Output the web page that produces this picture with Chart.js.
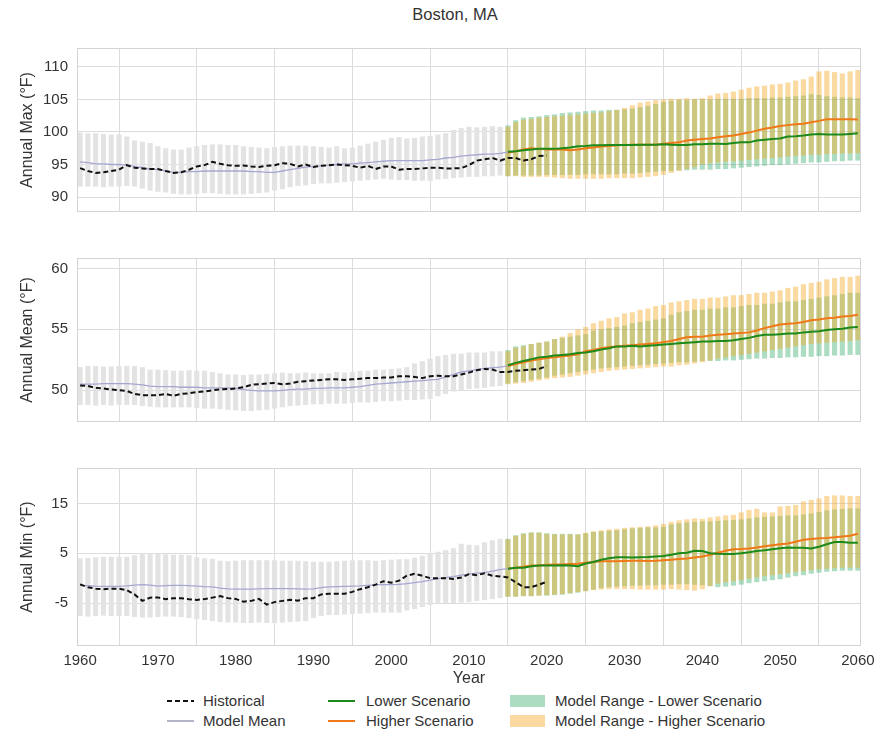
<!DOCTYPE html>
<html>
<head>
<meta charset="utf-8">
<script src="https://cdn.jsdelivr.net/npm/chart.js@4.4.1/dist/chart.umd.min.js"></script>
<style>
body{margin:0;background:#fff;width:887px;height:733px;position:relative;overflow:hidden;font-family:"Liberation Sans",Arial,sans-serif;color:#333}
canvas{position:absolute;left:0}
#title{position:absolute;top:4px;left:355px;width:200px;text-align:center;font-size:16.5px;line-height:20px}
.lg{position:absolute;font-size:15px;line-height:18px;white-space:nowrap}
.sw{position:absolute}
</style>
</head>
<body>
<div id="title">Boston, MA</div>
<canvas id="cMax" width="887" height="200" style="top:30px"></canvas>
<canvas id="cMean" width="887" height="200" style="top:240px"></canvas>
<canvas id="cMin" width="887" height="240" style="top:450px"></canvas>
<div id="legend"></div>
<script>
// first year of each kind of series
var histStart = 1960;
var modelStart = 1960;
var projStart = 2015;

var yearTicks = [1960, 1970, 1980, 1990, 2000, 2010, 2020, 2030, 2040, 2050, 2060];
var maxTicks = [90, 95, 100, 105, 110];
var meanTicks = [50, 55, 60];
var minTicks = [-5, 5, 15];

// ---- Annual Max ----
var histMax = [94.45,94.0,93.7,93.8,94.0,94.2,94.9,94.5,94.4,94.3, 94.3,94.0,93.7,93.8,94.2,94.7,94.9,95.4,95.1,94.9,
  94.8,94.85,94.7,94.6,94.8,94.9,95.2,95.1,94.7,95.0, 94.6,94.8,94.9,95.0,94.9,94.8,94.5,94.8,94.3,94.7,
  94.7,94.2,94.3,94.3,94.4,94.5,94.5,94.4,94.4,94.45, 94.9,95.6,95.8,96.0,95.6,96.0,96.0,95.6,95.8,96.3, 96.4];
var modelMeanMax = [95.4,95.3,95.1,95.1,95.0,95.0,94.9,94.7,94.5,94.3, 94.2,94.0,93.8,93.8,93.9,93.9,94.0,94.0,94.0,94.0,
  94.0,94.0,93.9,93.9,93.8,93.8,94.0,94.2,94.4,94.6, 94.7,94.8,94.9,95.0,95.1,95.1,95.2,95.3,95.4,95.5,
  95.6,95.6,95.6,95.6,95.6,95.7,95.8,96.0,96.1,96.3, 96.4,96.5,96.6,96.6,96.7,96.9];
var modelLowMax = [91.6,91.6,91.6,91.5,91.6,91.6,91.7,91.6,91.3,91.0, 90.8,90.7,90.5,90.4,90.4,90.5,90.6,90.6,90.5,90.4,
  90.4,90.4,90.5,90.6,90.7,91.0,91.2,91.5,91.7,91.8, 92.0,92.1,92.1,92.2,92.3,92.4,92.5,92.6,92.7,92.8,
  92.7,92.6,92.6,92.5,92.5,92.5,92.7,92.8,92.9,93.0, 93.1,93.1,93.2,93.2,93.3];
var modelHighMax = [99.9,99.8,99.8,99.7,99.6,99.6,99.3,98.7,98.5,98.3, 97.8,97.5,97.3,97.3,97.6,97.8,98.0,98.1,98.1,98.0,
  98.0,97.8,97.7,97.6,97.5,97.7,97.8,97.9,97.9,97.9, 97.8,97.7,97.6,97.8,97.5,97.6,97.9,98.2,98.5,98.8,
  99.1,99.2,99.0,99.1,99.3,99.4,99.6,99.8,100.3,100.6, 100.8,100.7,100.8,100.9,100.8];
var lowerMax = [96.95,97.05,97.2,97.3,97.4,97.4,97.4,97.5,97.6,97.8, 97.85,97.95,97.95,98.0,98.0,98.0,98.0,98.05,98.05,98.05,
  98.1,98.05,98.0,98.0,98.1,98.1,98.2,98.2,98.15,98.3, 98.4,98.4,98.7,98.8,98.9,99.0,99.3,99.35,99.45,99.6,
  99.7,99.6,99.6,99.6,99.7,99.8];
var lowerLowMax = [93.2,93.3,93.3,93.3,93.3,93.4,93.4,93.4,93.4,93.4, 93.5,93.5,93.5,93.5,93.5,93.6,93.6,93.7,93.8,93.9,
  94.0,94.0,94.1,94.1,94.2,94.2,94.2,94.3,94.3,94.4, 94.5,94.6,94.7,94.8,94.9,94.9,95.0,95.1,95.2,95.3,
  95.3,95.4,95.5,95.5,95.6,95.6];
var lowerHighMax = [101.0,101.8,102.2,102.3,102.4,102.6,102.7,102.9,103.0,103.1, 103.2,103.3,103.3,103.4,103.4,103.5,103.6,103.8,104.0,104.3,
  104.6,104.8,104.9,104.9,105.0,105.0,105.0,105.1,105.1,105.1, 105.1,105.2,105.2,105.2,105.3,105.3,105.4,105.5,105.6,105.8,
  105.7,105.5,105.4,105.3,105.3,105.2];
var higherMax = [96.8,97.05,97.3,97.5,97.4,97.3,97.3,97.3,97.2,97.3, 97.5,97.6,97.75,97.85,97.95,98.0,98.05,98.05,98.05,98.05,
  98.2,98.3,98.4,98.7,98.8,98.9,99.0,99.2,99.35,99.45, 99.7,99.9,100.2,100.5,100.7,100.9,101.05,101.2,101.25,101.5,
  101.7,101.95,101.95,101.95,101.95,101.9];
var higherLowMax = [93.2,93.2,93.1,93.1,93.1,93.1,93.0,92.9,92.8,92.8, 92.8,92.8,92.8,92.9,92.9,92.9,92.9,93.0,93.1,93.2,
  93.4,93.7,94.0,94.3,94.6,95.0,95.2,95.3,95.4,95.5, 95.6,95.7,95.8,95.9,96.0,96.1,96.2,96.3,96.4,96.5,
  96.5,96.6,96.6,96.7,96.7,96.7];
var higherHighMax = [100.8,101.5,101.9,102.0,102.2,102.3,102.4,102.5,102.6,102.7, 102.8,102.9,103.0,103.2,103.4,103.7,104.1,104.5,104.7,104.9,
  105.0,105.1,105.1,105.2,105.1,105.2,105.6,105.9,106.0,106.2, 106.5,106.8,107.0,107.1,107.3,107.4,107.6,107.9,108.1,108.5,
  109.3,109.4,109.2,109.0,109.3,109.5];

// ---- Annual Mean ----
var histMean = [50.4,50.35,50.2,50.15,50.07,50.0,49.95,49.7,49.6,49.6, 49.6,49.7,49.55,49.7,49.75,49.85,49.9,50.0,50.07,50.1,
  50.15,50.25,50.45,50.5,50.55,50.6,50.5,50.55,50.7,50.75, 50.8,50.85,50.9,50.9,50.85,50.9,50.95,51.0,51.0,51.05,
  51.05,51.15,51.15,51.1,51.0,51.15,51.2,51.15,51.15,51.3, 51.45,51.65,51.75,51.7,51.5,51.5,51.6,51.65,51.7,51.75, 52.0];
var modelMeanMean = [50.5,50.5,50.5,50.55,50.55,50.55,50.55,50.5,50.45,50.35, 50.3,50.3,50.3,50.25,50.25,50.25,50.2,50.2,50.2,50.2,
  50.15,50.05,50.0,49.95,49.95,49.95,50.0,50.05,50.1,50.1, 50.15,50.15,50.2,50.2,50.2,50.25,50.3,50.4,50.5,50.55,
  50.6,50.65,50.7,50.75,50.8,50.85,50.9,51.1,51.3,51.5, 51.6,51.7,51.8,51.85,51.9,52.0];
var modelLowMean = [48.8,48.8,48.75,48.8,48.75,48.8,48.8,48.8,48.7,48.65, 48.6,48.6,48.6,48.6,48.6,48.55,48.5,48.5,48.45,48.4,
  48.35,48.3,48.3,48.35,48.4,48.5,48.6,48.7,48.75,48.8, 48.85,48.85,48.9,48.9,48.9,48.95,49.0,49.0,49.05,49.1,
  49.1,49.15,49.2,49.2,49.25,49.3,49.5,49.7,49.9,50.0, 50.1,50.15,50.2,50.3,50.35];
var modelHighMean = [51.9,52.0,52.0,51.95,51.95,52.0,52.0,52.0,51.9,51.7, 51.7,51.65,51.6,51.6,51.65,51.6,51.6,51.5,51.4,51.3,
  51.3,51.25,51.3,51.3,51.35,51.4,51.45,51.4,51.4,51.45, 51.4,51.4,51.4,51.5,51.45,51.5,51.6,51.6,51.7,51.7,
  51.75,51.8,51.9,52.2,52.4,52.6,52.8,52.9,53.0,53.0, 53.1,53.1,53.1,53.2,53.2];
var lowerMean = [52.05,52.25,52.4,52.55,52.7,52.75,52.85,52.9,52.95,53.05, 53.1,53.2,53.35,53.45,53.6,53.6,53.65,53.6,53.65,53.7,
  53.75,53.8,53.85,53.9,53.95,54.0,54.0,54.05,54.05,54.1, 54.2,54.3,54.45,54.55,54.55,54.6,54.65,54.65,54.75,54.8,
  54.85,54.95,55.0,55.05,55.15,55.2];
var lowerLowMean = [50.55,50.65,50.75,50.85,50.95,51.05,51.2,51.3,51.4,51.5, 51.6,51.7,51.8,51.85,51.9,51.95,52.0,52.05,52.1,52.15,
  52.2,52.25,52.3,52.3,52.35,52.4,52.4,52.4,52.45,52.45, 52.5,52.55,52.6,52.6,52.65,52.65,52.7,52.7,52.75,52.75,
  52.8,52.8,52.85,52.85,52.9,52.9];
var lowerHighMean = [53.3,53.6,53.7,53.8,53.9,54.0,54.2,54.3,54.4,54.5, 54.6,54.9,55.0,55.1,55.2,55.3,55.5,55.6,55.7,55.8,
  55.9,56.2,56.4,56.5,56.6,56.6,56.7,56.7,56.8,56.8, 56.9,57.0,57.0,57.1,57.1,57.2,57.3,57.3,57.4,57.5,
  57.6,57.7,57.8,57.9,58.0,58.0];
var higherMean = [52.0,52.15,52.3,52.45,52.55,52.65,52.7,52.8,52.85,52.95, 53.2,53.3,53.45,53.55,53.6,53.65,53.7,53.75,53.8,53.85,
  53.95,54.05,54.2,54.35,54.4,54.4,54.5,54.55,54.6,54.65, 54.7,54.75,54.9,55.1,55.25,55.4,55.45,55.5,55.6,55.75,
  55.8,55.9,55.95,56.05,56.1,56.2];
var higherLowMean = [50.5,50.55,50.6,50.7,50.8,50.9,51.0,51.05,51.1,51.2, 51.3,51.4,51.5,51.6,51.65,51.7,51.75,51.8,51.85,51.9,
  51.95,51.95,52.05,52.1,52.2,52.3,52.45,52.6,52.7,52.8, 52.9,53.0,53.1,53.2,53.3,53.4,53.5,53.6,53.7,53.8,
  53.85,53.9,53.95,54.0,54.05,54.1];
var higherHighMean = [53.2,53.5,53.6,53.8,53.9,54.0,54.2,54.4,54.7,55.0, 55.2,55.5,55.7,55.9,56.0,56.3,56.4,56.6,56.7,56.9,
  57.0,57.2,57.3,57.4,57.5,57.5,57.6,57.6,57.7,57.8, 57.8,57.9,58.0,58.0,58.1,58.2,58.4,58.5,58.7,58.8,
  58.9,59.1,59.2,59.3,59.3,59.4];

// ---- Annual Min ----
var histMin = [-1.25,-1.8,-2.1,-2.2,-2.1,-2.1,-2.4,-3.25,-4.55,-3.9, -3.85,-4.2,-4.0,-4.0,-4.2,-4.35,-4.2,-3.9,-3.6,-4.0,
  -4.15,-4.7,-4.55,-4.15,-5.3,-4.8,-4.55,-4.35,-4.5,-4.0, -4.0,-3.25,-3.1,-3.1,-3.1,-2.75,-2.2,-1.8,-1.3,-0.6,
  -0.9,-0.5,0.5,0.9,0.5,0.0,0.0,0.0,-0.15,0.15, 0.8,0.6,1.0,0.5,0.35,0.15,-0.8,-1.8,-1.8,-1.3, -0.7];
var modelMeanMin = [-1.45,-1.5,-1.6,-1.65,-1.65,-1.65,-1.55,-1.4,-1.3,-1.4, -1.6,-1.5,-1.45,-1.45,-1.5,-1.6,-1.7,-1.75,-2.0,-2.15,
  -2.2,-2.2,-2.2,-2.15,-2.1,-2.1,-2.1,-2.1,-2.15,-2.2, -2.15,-1.9,-1.75,-1.7,-1.65,-1.6,-1.55,-1.45,-1.35,-1.3,
  -1.3,-1.25,-1.1,-0.9,-0.7,-0.4,-0.1,0.1,0.3,0.6, 0.8,1.0,1.1,1.4,1.7,1.9];
var modelLowMin = [-7.6,-7.7,-7.6,-7.5,-7.6,-7.6,-7.6,-7.8,-7.9,-7.9, -7.8,-7.7,-7.7,-7.8,-8.0,-8.2,-8.4,-8.6,-8.8,-8.9,
  -8.9,-9.0,-9.0,-8.9,-9.0,-9.0,-8.9,-8.8,-8.7,-8.6, -8.0,-7.6,-7.4,-7.4,-7.3,-7.2,-7.1,-7.0,-6.9,-6.9,
  -6.9,-6.9,-6.5,-6.2,-5.8,-5.4,-5.2,-5.0,-5.0,-4.9, -4.8,-4.6,-4.4,-4.2,-4.0];
var modelHighMin = [4.0,4.1,4.2,4.3,4.3,4.3,4.3,4.6,5.0,5.0, 4.9,4.8,4.7,4.7,4.6,4.2,4.0,3.9,3.5,3.4,
  3.5,3.6,3.6,3.6,3.6,3.6,3.5,3.5,3.5,3.4, 3.3,3.3,3.3,3.4,3.5,3.6,3.6,3.6,3.5,3.6,
  3.7,3.8,3.8,4.1,4.5,5.0,5.3,5.6,6.0,6.9, 6.7,6.6,7.2,7.6,7.9];
var lowerMin = [1.9,2.1,2.1,2.4,2.55,2.55,2.55,2.6,2.55,2.4, 2.95,3.25,3.7,4.0,4.2,4.2,4.15,4.2,4.25,4.35,
  4.45,4.7,5.0,5.1,5.5,5.45,5.0,4.9,4.85,4.85, 5.0,5.2,5.45,5.6,5.8,6.0,6.15,6.1,6.1,5.95,
  6.3,6.8,7.25,7.25,7.1,7.1];
var lowerLowMin = [-3.7,-3.7,-3.6,-3.6,-3.5,-3.5,-3.4,-3.3,-3.1,-2.9, -2.6,-2.3,-2.0,-1.8,-1.7,-1.6,-1.5,-1.5,-1.4,-1.4,
  -1.3,-1.3,-1.2,-1.2,-1.3,-1.4,-1.6,-1.8,-1.7,-1.5, -1.3,-1.0,-0.8,-0.6,-0.4,-0.2,0.1,0.4,0.6,0.9,
  1.1,1.3,1.4,1.5,1.5,1.5];
var lowerHighMin = [7.9,8.6,9.0,9.2,9.2,9.0,8.9,8.9,8.9,8.8, 9.0,9.3,9.4,9.5,9.6,9.8,10.0,10.1,10.2,10.2,
  10.3,10.8,11.0,11.2,11.3,11.4,11.4,11.5,11.6,11.7, 11.8,12.0,12.2,12.3,12.4,12.5,12.6,12.6,12.8,13.0,
  13.3,13.6,13.8,13.9,14.0,14.0];
var higherMin = [1.9,2.1,2.3,2.55,2.55,2.7,2.75,2.75,2.85,2.9, 3.1,3.25,3.4,3.4,3.4,3.45,3.5,3.5,3.45,3.5,
  3.6,3.7,3.85,3.95,4.15,4.35,4.7,5.1,5.5,5.8, 5.85,5.95,6.15,6.4,6.6,6.8,6.95,7.3,7.7,7.85,
  8.0,8.05,8.2,8.35,8.5,8.9];
var higherLowMin = [-3.7,-3.7,-3.6,-3.6,-3.5,-3.4,-3.3,-3.2,-3.0,-2.8, -2.6,-2.4,-2.3,-2.2,-2.2,-2.2,-2.2,-2.3,-2.3,-2.3,
  -2.3,-2.2,-2.3,-2.4,-2.5,-2.2,-1.6,-1.1,-0.8,-0.6, -0.4,-0.1,0.2,0.4,0.6,0.8,1.0,1.2,1.4,1.6,
  1.8,1.9,2.0,2.1,2.1,2.1];
var higherHighMin = [7.8,8.5,8.9,9.1,9.1,8.9,8.8,8.8,8.8,8.8, 9.1,9.4,9.6,9.8,9.9,10.1,10.2,10.3,10.4,10.6,
  10.9,11.3,11.6,11.8,12.0,11.9,12.2,12.4,12.6,12.7, 13.2,13.7,13.9,13.2,13.2,14.4,14.5,14.7,15.4,15.7,
  16.0,16.5,16.6,16.6,16.5,16.5];

var colors = {
	hist: '#111111',
	mean: '#a6a6d2',
	lower: '#1b8a1b',
	higher: '#f07818',
	grayBar: '#e3e3e3',
	lowerBar: 'rgba(70,180,120,0.45)',
	higherBar: 'rgba(245,172,45,0.45)',
	grid: '#dcdce0',
	frame: '#d2d2d8',
	text: '#333333'
};
var fontFamily = '"Liberation Sans", Arial, sans-serif';

function toPoints(start, vals){
	return vals.map(function(v, i){ return { x: start + i, y: v }; });
}

function toRanges(start, lows, highs){
	return lows.map(function(v, i){ return { x: start + i, y: [v, highs[i]] }; });
}

// light frame round the plot area, like the axes spines
var framePlugin = {
	id: 'frame',
	afterDatasetsDraw: function(chart){
		var a = chart.chartArea, ctx = chart.ctx;
		ctx.save();
		ctx.strokeStyle = colors.frame;
		ctx.lineWidth = 1;
		ctx.strokeRect(Math.round(a.left) + 0.5, Math.round(a.top) + 0.5, Math.round(a.right - a.left) - 1, Math.round(a.bottom - a.top) - 1);
		ctx.restore();
	}
};

function makePanel(id, p){
	var lineDs = function(label, data, color, width, extra){
		return Object.assign({
			type: 'line', label: label, data: data, borderColor: color, borderWidth: width,
			pointRadius: 0, fill: false, tension: 0, order: 0
		}, extra || {});
	};
	var barDs = function(label, data, color, order){
		return {
			type: 'bar', label: label, data: data, backgroundColor: color, borderWidth: 0,
			grouped: false, barPercentage: 0.66, categoryPercentage: 1, order: order
		};
	};

	return new Chart(document.getElementById(id), {
		type: 'bar',
		data: {
			datasets: [
				lineDs('Historical', toPoints(histStart, p.hist), colors.hist, 2, { borderDash: [5, 3] }),
				lineDs('Model Mean', toPoints(modelStart, p.mean), colors.mean, 1.3),
				lineDs('Lower Scenario', toPoints(projStart, p.lower), colors.lower, 2),
				lineDs('Higher Scenario', toPoints(projStart, p.higher), colors.higher, 2),
				barDs('Model Range - Higher Scenario', toRanges(projStart, p.higherLow, p.higherHigh), colors.higherBar, 1),
				barDs('Model Range - Lower Scenario', toRanges(projStart, p.lowerLow, p.lowerHigh), colors.lowerBar, 2),
				barDs('Model Range', toRanges(modelStart, p.modelLow, p.modelHigh), colors.grayBar, 3)
			]
		},
		options: {
			responsive: false,
			animation: false,
			devicePixelRatio: 1,
			layout: { padding: p.padding },
			plugins: { legend: { display: false }, tooltip: { enabled: false } },
			scales: {
				x: {
					type: 'linear', min: 1959.6, max: 2060.4, offset: false,
					afterBuildTicks: function(s){ s.ticks = yearTicks.map(function(v){ return { value: v }; }); },
					afterFit: function(s){ s.height = p.xHeight; },
					grid: { color: colors.grid, drawTicks: false },
					border: { display: false },
					ticks: {
						display: p.showX, padding: 6, color: colors.text, maxRotation: 0,
						font: { family: fontFamily, size: 15 },
						callback: function(v){ return String(v); }
					},
					title: {
						display: p.showX, text: 'Year', color: colors.text,
						font: { family: fontFamily, size: 16 }, padding: { top: 0, bottom: 2 }
					}
				},
				y: {
					min: p.yMin, max: p.yMax,
					afterBuildTicks: function(s){ s.ticks = p.ticks.map(function(v){ return { value: v }; }); },
					afterFit: function(s){ s.width = 77; },
					grid: { color: colors.grid, drawTicks: false },
					border: { display: false },
					ticks: { padding: 9, color: colors.text, font: { family: fontFamily, size: 15 } },
					title: {
						display: true, text: p.title, color: colors.text,
						font: { family: fontFamily, size: 16 }, padding: { top: 18, bottom: 0 }
					}
				}
			}
		},
		plugins: [framePlugin]
	});
}

makePanel('cMax', {
	title: 'Annual Max (°F)', yMin: 87.7, yMax: 112.9, ticks: maxTicks,
	hist: histMax, mean: modelMeanMax, modelLow: modelLowMax, modelHigh: modelHighMax,
	lower: lowerMax, lowerLow: lowerLowMax, lowerHigh: lowerHighMax,
	higher: higherMax, higherLow: higherLowMax, higherHigh: higherHighMax,
	padding: { top: 10, right: 26, bottom: 5, left: 0 }, showX: false, xHeight: 0
});

makePanel('cMean', {
	title: 'Annual Mean (°F)', yMin: 47.4, yMax: 60.85, ticks: meanTicks,
	hist: histMean, mean: modelMeanMean, modelLow: modelLowMean, modelHigh: modelHighMean,
	lower: lowerMean, lowerLow: lowerLowMean, lowerHigh: lowerHighMean,
	higher: higherMean, higherLow: higherLowMean, higherHigh: higherHighMean,
	padding: { top: 10, right: 26, bottom: 5, left: 0 }, showX: false, xHeight: 0
});

makePanel('cMin', {
	title: 'Annual Min (°F)', yMin: -13.6, yMax: 22.1, ticks: minTicks,
	hist: histMin, mean: modelMeanMin, modelLow: modelLowMin, modelHigh: modelHighMin,
	lower: lowerMin, lowerLow: lowerLowMin, lowerHigh: lowerHighMin,
	higher: higherMin, higherLow: higherLowMin, higherHigh: higherHighMin,
	padding: { top: 12, right: 26, bottom: 0, left: 0 }, showX: true, xHeight: 44
});

// legend below the panels
var legendItems = [
	{ text: 'Historical', kind: 'dash', color: colors.hist, x: 167, tx: 203, y: 701 },
	{ text: 'Model Mean', kind: 'line', color: '#b4b4c8', x: 167, tx: 203, y: 721 },
	{ text: 'Lower Scenario', kind: 'line', color: colors.lower, x: 328, tx: 366, y: 701 },
	{ text: 'Higher Scenario', kind: 'line', color: colors.higher, x: 328, tx: 366, y: 721 },
	{ text: 'Model Range - Lower Scenario', kind: 'patch', color: colors.lowerBar, x: 510, tx: 555, y: 701 },
	{ text: 'Model Range - Higher Scenario', kind: 'patch', color: colors.higherBar, x: 510, tx: 555, y: 721 }
];

var legend = document.getElementById('legend');
legendItems.forEach(function(item){
	var sw = document.createElement('div');
	sw.className = 'sw';
	if(item.kind === 'patch'){
		sw.style.cssText = 'left:' + item.x + 'px;top:' + (item.y - 6) + 'px;width:35px;height:12px;background:' + item.color;
	}
	else if(item.kind === 'dash'){
		sw.style.cssText = 'left:' + item.x + 'px;top:' + (item.y - 1) + 'px;width:27px;height:2px;background:repeating-linear-gradient(90deg,' + item.color + ' 0 5px,transparent 5px 8px)';
	}
	else {
		sw.style.cssText = 'left:' + item.x + 'px;top:' + (item.y - 1) + 'px;width:27px;height:2px;background:' + item.color;
	}
	legend.appendChild(sw);

	var t = document.createElement('div');
	t.className = 'lg';
	t.textContent = item.text;
	t.style.left = item.tx + 'px';
	t.style.top = (item.y - 9) + 'px';
	legend.appendChild(t);
});
</script>
</body>
</html>
